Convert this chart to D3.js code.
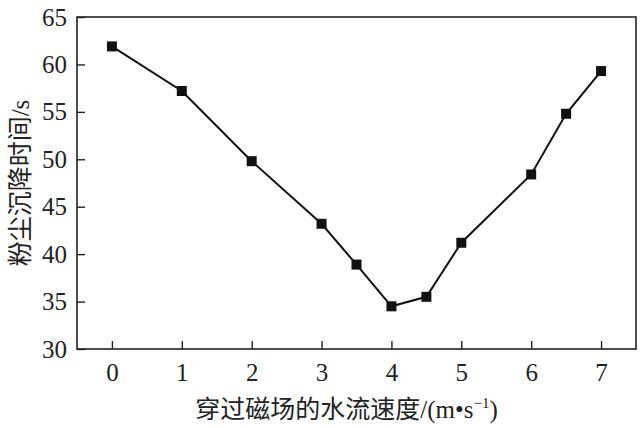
<!DOCTYPE html>
<html><head><meta charset="utf-8">
<script src="https://cdn.jsdelivr.net/npm/d3@7"></script>
<style>body{margin:0;background:#fff}</style>
</head><body>
<script>
// speed of water through magnetic field vs dust settling time
var speeds = [0, 1, 2, 3, 3.5, 4, 4.5, 5, 6, 6.5, 7];
var times = [61.9, 57.2, 49.8, 43.2, 38.9, 34.5, 35.5, 41.2, 48.4, 54.8, 59.3];
var xTicks = [0, 1, 2, 3, 4, 5, 6, 7];
var yTicks = [30, 35, 40, 45, 50, 55, 60, 65];

var W = 640, H = 428, L = 77, R = 636, T = 17, B = 349;
var svg = d3.select("body").append("svg").attr("width", W).attr("height", H);
var x = d3.scaleLinear().domain([-0.5, 7.5]).range([L, R]);
var y = d3.scaleLinear().domain([30, 65]).range([B, T]);
var font = "'Liberation Serif','Times New Roman',serif";

svg.append("rect").attr("x", L).attr("y", T).attr("width", R - L).attr("height", B - T)
  .attr("fill", "none").attr("stroke", "#222").attr("stroke-width", 1.6);

var xa = svg.append("g").attr("transform", "translate(0," + B + ")")
  .call(d3.axisBottom(x).tickValues(xTicks).tickSize(-8).tickPadding(14).tickFormat(d3.format("d")));
var ya = svg.append("g").attr("transform", "translate(" + L + ",0)")
  .call(d3.axisLeft(y).tickValues(yTicks).tickSize(-8).tickPadding(10).tickFormat(d3.format("d")));
[xa, ya].forEach(function(a) {
  a.select(".domain").remove();
  a.selectAll("line").attr("stroke", "#222").attr("stroke-width", 1.4);
  a.selectAll("text").attr("font-family", font).attr("font-size", 25).attr("fill", "#222");
});

svg.append("path").datum(speeds.map(function(s, i) { return [s, times[i]]; }))
  .attr("fill", "none").attr("stroke", "#111").attr("stroke-width", 2)
  .attr("d", d3.line().x(function(d) { return x(d[0]); }).y(function(d) { return y(d[1]); }));
svg.selectAll("rect.pt").data(speeds).enter().append("rect").attr("class", "pt")
  .attr("x", function(d) { return x(d) - 5; })
  .attr("y", function(d, i) { return y(times[i]) - 5; })
  .attr("width", 10).attr("height", 10).attr("fill", "#111");

var xl = svg.append("text").attr("x", (L + R) / 2 - 10).attr("y", 418).attr("text-anchor", "middle")
  .attr("font-size", 25).attr("fill", "#222").attr("font-family", "'Noto Sans CJK SC'");
xl.append("tspan").text("穿过磁场的水流速度");
xl.append("tspan").attr("font-family", font).text("/(m\u2022s");
xl.append("tspan").attr("font-family", font).attr("font-size", 15).attr("dy", -10).text("\u22121");
xl.append("tspan").attr("font-family", font).attr("dy", 10).text(")");

var yl = svg.append("text").attr("transform", "translate(29," + ((T + B) / 2) + ") rotate(-90)")
  .attr("text-anchor", "middle").attr("font-size", 25).attr("fill", "#222")
  .attr("font-family", "'Noto Sans CJK SC'");
yl.append("tspan").text("粉尘沉降时间");
yl.append("tspan").attr("font-family", font).text("/s");
</script>
</body></html>
